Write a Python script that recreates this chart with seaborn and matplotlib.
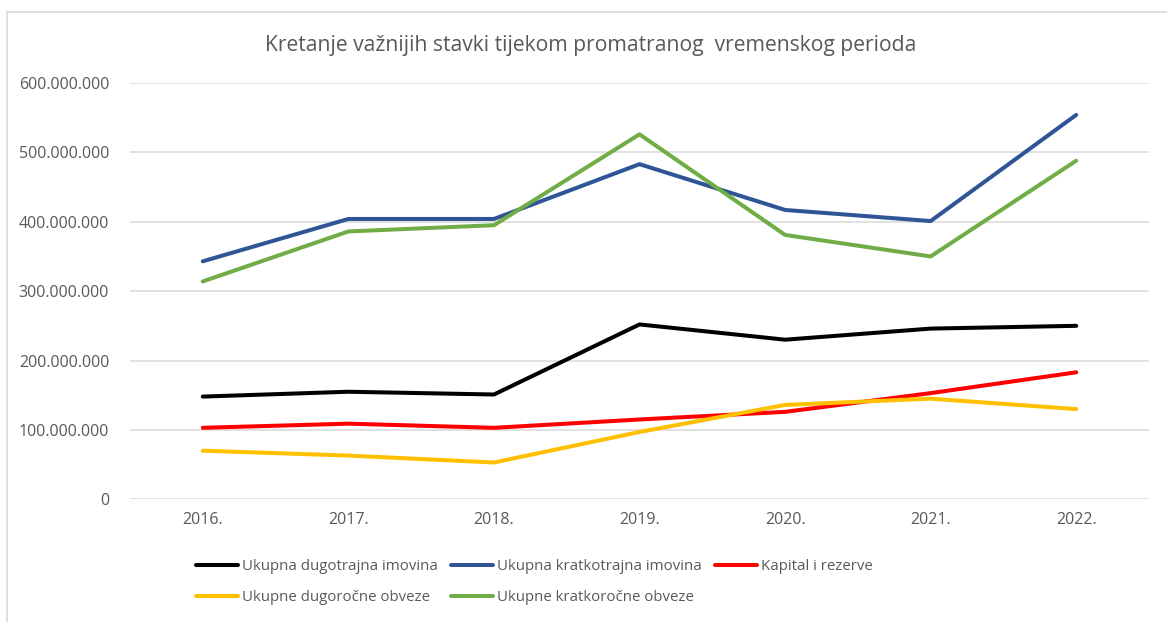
import pandas as pd
import seaborn as sns
import matplotlib.pyplot as plt
from matplotlib.lines import Line2D
from matplotlib.ticker import FuncFormatter

godine = ["2016.", "2017.", "2018.", "2019.", "2020.", "2021.", "2022."]

dugotrajna = [148e6, 155e6, 151e6, 252e6, 230e6, 246e6, 250e6]
kratkotrajna = [343e6, 404e6, 404e6, 483e6, 417e6, 401e6, 554e6]
kapital = [103e6, 109e6, 103e6, 115e6, 126e6, 153e6, 183e6]
dugorocne = [70e6, 63e6, 53e6, 97e6, 136e6, 145e6, 130e6]
kratkorocne = [314e6, 386e6, 395e6, 526e6, 381e6, 350e6, 488e6]

serije = {
    "Ukupna dugotrajna imovina": dugotrajna,
    "Ukupna kratkotrajna imovina": kratkotrajna,
    "Kapital i rezerve": kapital,
    "Ukupne dugoročne obveze": dugorocne,
    "Ukupne kratkoročne obveze": kratkorocne,
}
boje = {
    "Ukupna dugotrajna imovina": "#000000",
    "Ukupna kratkotrajna imovina": "#2F5597",
    "Kapital i rezerve": "#FF0000",
    "Ukupne dugoročne obveze": "#FFC000",
    "Ukupne kratkoročne obveze": "#70AD47",
}

df = pd.DataFrame(
    [(g, naziv, v) for naziv, vals in serije.items() for g, v in zip(godine, vals)],
    columns=["Godina", "Stavka", "Iznos"],
)

sns.set_style("white")
plt.rcParams["font.family"] = ["Open Sans", "DejaVu Sans"]
siva = "#595959"

fig = plt.figure(figsize=(11.67, 6.22), dpi=100)
ax = fig.add_axes([0.1114, 0.1973, 0.8732, 0.6693])

sns.lineplot(data=df, x="Godina", y="Iznos", hue="Stavka", palette=boje,
             linewidth=2.9, ax=ax, legend=False, sort=False)

ax.set_xlim(-0.5, 6.5)
ax.set_ylim(0, 600e6)
ax.set_yticks(range(0, 600000001, 100000000))
ax.yaxis.set_major_formatter(FuncFormatter(lambda v, p: f"{int(v):,}".replace(",", ".")))
ax.grid(axis="y", color="#D9D9D9", linewidth=1.1)
ax.set_axisbelow(True)
for s in ax.spines.values():
    s.set_visible(False)
ax.tick_params(axis="both", length=0, labelsize=11.5, labelcolor=siva)
ax.tick_params(axis="y", pad=15)
ax.tick_params(axis="x", pad=9)
ax.set_xlabel("")
ax.set_ylabel("")

fig.text(0.506, 0.927, "Kretanje važnijih stavki tijekom promatranog  vremenskog perioda",
         ha="center", va="center", fontsize=15.2, color=siva)

# legenda: stupci popunjeni redom kao u Excelu
redoslijed = ["Ukupna dugotrajna imovina", "Ukupne dugoročne obveze",
              "Ukupna kratkotrajna imovina", "Ukupne kratkoročne obveze",
              "Kapital i rezerve"]
handles = [Line2D([], [], color=boje[n], linewidth=2.9) for n in redoslijed]
fig.legend(handles, redoslijed, ncol=3, loc="upper left", bbox_to_anchor=(0.163, 0.111),
           frameon=False, fontsize=10.8, labelcolor=siva, handlelength=2.8,
           handletextpad=0.27, columnspacing=0.87, labelspacing=1.1, borderaxespad=0)

# okvir grafikona
fig.add_artist(Line2D([7 / 1167, 1], [1 - 12 / 622, 1 - 12 / 622], color="#D9D9D9", linewidth=1.2,
                      transform=fig.transFigure))
fig.add_artist(Line2D([7 / 1167, 7 / 1167], [0, 1 - 12 / 622], color="#D9D9D9", linewidth=1.2,
                      transform=fig.transFigure))

plt.savefig("out.png", dpi=100)
